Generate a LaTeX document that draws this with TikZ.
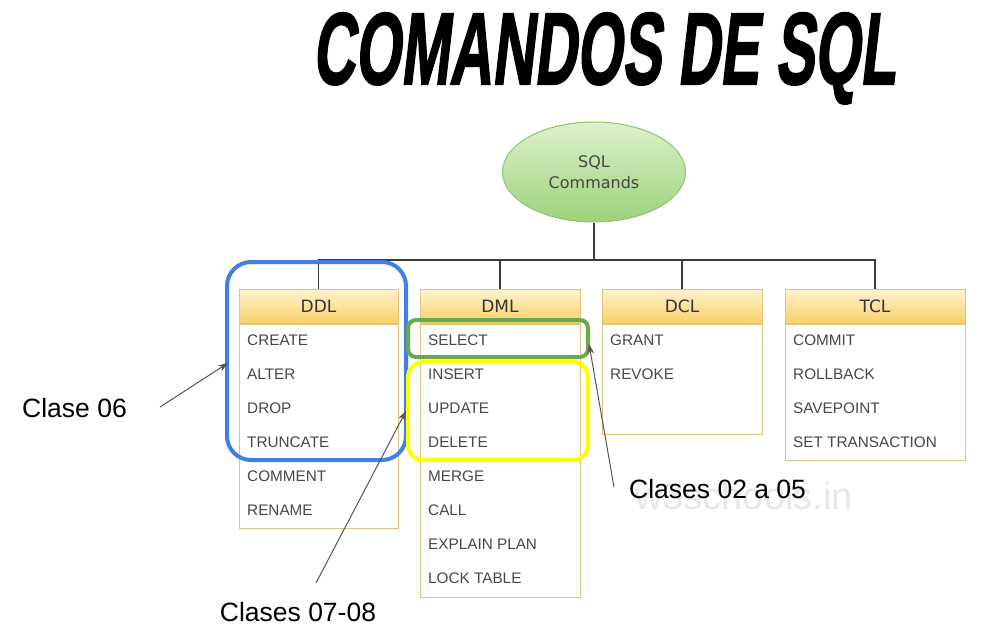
\documentclass[tikz,border=0pt]{standalone}
\usepackage{fontspec}
\setmainfont{Liberation Sans}
\newfontfamily\hdfont{DejaVu Sans}
\newfontfamily\titlefont{Liberation Sans Bold}[FakeBold=2,FakeSlant=0.2]
\usetikzlibrary{shapes.geometric,arrows.meta}
\definecolor{boxline}{HTML}{E3C27E}
\definecolor{hdtop}{HTML}{FFF3CF}
\definecolor{hdbot}{HTML}{F8D169}
\definecolor{elltop}{HTML}{DDF1CD}
\definecolor{ellbot}{HTML}{9CD27A}
\definecolor{ellline}{HTML}{8EC46C}
\definecolor{hlblue}{HTML}{3F7FEA}
\definecolor{hlgreen}{HTML}{6AA84F}
\definecolor{hlyellow}{HTML}{FFFF00}
\definecolor{conn}{HTML}{3A3A3A}
\definecolor{arrowc}{HTML}{555555}
\tikzset{
  hdr/.style={rectangle, top color=hdtop, bottom color=hdbot, draw=boxline, line width=1pt,
    minimum height=34pt, inner sep=0pt, text=black!80, font=\hdfont\fontsize{17}{17}\selectfont},
  bodybox/.style={rectangle, fill=white, draw=boxline, line width=1pt, anchor=north, inner sep=0pt},
  item/.style={anchor=west, inner sep=0pt, text=black!72, font=\fontsize{15.3}{15.3}\selectfont},
  tree/.style={draw=conn, line width=1.4pt},
  hl/.style={rectangle, line width=4pt, inner sep=0pt},
  lbl/.style={inner sep=0pt, text=black, font=\fontsize{26.5}{26.5}\selectfont},
  pointer/.style={draw=arrowc, line width=1pt, -{Stealth[length=10pt,width=7pt]}}
}
\begin{document}
\begin{tikzpicture}[x=1pt,y=-1pt]
\useasboundingbox[fill=white] (0,0) rectangle (1003,633);
% title
\node[inner sep=0pt, anchor=base] (title) at (604,84)
  {\scalebox{0.575}[1]{\titlefont\fontsize{102}{102}\selectfont COMANDOS DE SQL}};
% watermark
\node[inner sep=0pt, text=black!9, font=\fontsize{38}{38}\selectfont] (wm) at (744,496) {w3schools.in};
% root
\node[ellipse, minimum width=183pt, minimum height=100pt, top color=elltop, bottom color=ellbot,
  draw=ellline, line width=1pt, align=center, text=black!72,
  font=\hdfont\fontsize{16}{21}\selectfont] (root) at (594,172) {SQL\\Commands};
% headers
\node[hdr, minimum width=159pt] (ddl) at (318.5,306) {DDL};
\node[hdr, minimum width=160pt] (dml) at (500,306) {DML};
\node[hdr, minimum width=160pt] (dcl) at (682,306) {DCL};
\node[hdr, minimum width=180pt] (tcl) at (875,306) {TCL};
% bodies
\node[bodybox, minimum width=159pt, minimum height=204pt] (ddlb) at (ddl.south) {};
\node[bodybox, minimum width=160pt, minimum height=273pt] (dmlb) at (dml.south) {};
\node[bodybox, minimum width=160pt, minimum height=110pt] (dclb) at (dcl.south) {};
\node[bodybox, minimum width=180pt, minimum height=136pt] (tclb) at (tcl.south) {};
% tree connectors
\coordinate (bus) at (594,260);
\draw[tree] (root.south) -- (bus);
\draw[tree] (ddl.north) -- (ddl.north |- bus) -- (tcl.north |- bus) -- (tcl.north);
\draw[tree] (dml.north) -- (dml.north |- bus);
\draw[tree] (dcl.north) -- (dcl.north |- bus);
% items
\foreach \t [count=\i from 0] in {CREATE,ALTER,DROP,TRUNCATE,COMMENT,RENAME}
  \node[item] (ddl\i) at (247,340+34*\i) {\t};
\foreach \t [count=\i from 0] in {SELECT,INSERT,UPDATE,DELETE,MERGE,CALL,EXPLAIN PLAN,LOCK TABLE}
  \node[item] (dml\i) at (428,340+34*\i) {\t};
\foreach \t [count=\i from 0] in {GRANT,REVOKE}
  \node[item] (dcl\i) at (610,340+34*\i) {\t};
\foreach \t [count=\i from 0] in {COMMIT,ROLLBACK,SAVEPOINT,SET TRANSACTION}
  \node[item] (tcl\i) at (793,340+34*\i) {\t};
% highlights
\node[hl, draw=hlblue, rounded corners=24pt, minimum width=179pt, minimum height=198pt] (hb) at (316.5,361) {};
\node[hl, draw=hlgreen, rounded corners=8pt, minimum width=180pt, minimum height=37pt] (hg) at (498,338.5) {};
\node[hl, draw=hlyellow, rounded corners=15pt, minimum width=180pt, minimum height=98pt] (hy) at (498,411) {};
% labels
\node[lbl, anchor=west] (l06) at (22,408) {Clase 06};
\node[lbl] (l0708) at (298,612) {Clases 07-08};
\node[lbl, anchor=west] (l0205) at (629,489) {Clases 02 a 05};
% pointers
\coordinate (t06) at (160,407);
\coordinate (t0708) at (316,583);
\coordinate (t0205) at (614,487);
\coordinate (h0205) at (589,344);
\draw[pointer] (t06) -- (228,363);
\draw[pointer] (t0708) -- (hy.west);
\draw[pointer] (t0205) -- (h0205);
\end{tikzpicture}
\end{document}
